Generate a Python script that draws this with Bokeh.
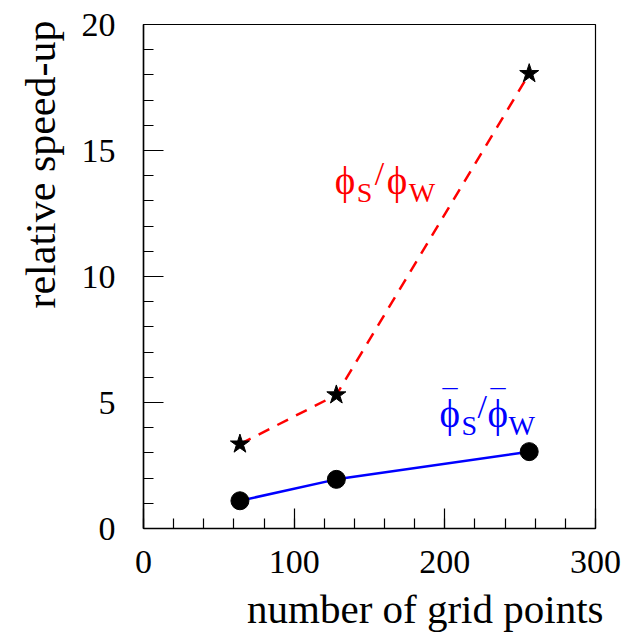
from bokeh.plotting import figure
from bokeh.models import Range1d, SingleIntervalTicker, Label, Title
from bokeh.embed import file_html
from bokeh.resources import INLINE

# data
grid_points = [64, 128, 256]
speedup_single = [3.35, 5.3, 18.05]   # phi_S / phi_W (stars, red dashed)
speedup_avg = [1.1, 1.95, 3.05]       # bar phi_S / bar phi_W (circles, blue)
x_ticks_interval = 100
y_ticks_interval = 5
x_title = "number of grid points"
y_title = "relative speed-up"

FONT = "Liberation Serif"

p = figure(width=634, height=640, output_backend="svg", toolbar_location=None,
           x_range=Range1d(0, 300), y_range=Range1d(0, 20),
           min_border_left=141, min_border_right=39, min_border_top=24, min_border_bottom=110)
p.xgrid.visible = False
p.ygrid.visible = False
p.outline_line_color = "black"
p.outline_line_width = 1.2
p.background_fill_color = "white"
p.border_fill_color = "white"

p.xaxis.ticker = SingleIntervalTicker(interval=x_ticks_interval, num_minor_ticks=5)
p.yaxis.ticker = SingleIntervalTicker(interval=y_ticks_interval, num_minor_ticks=5)
for ax in (p.xaxis[0], p.yaxis[0]):
    ax.major_tick_in = 20
    ax.major_tick_out = 0
    ax.minor_tick_in = 10
    ax.minor_tick_out = 0
    ax.axis_line_color = "black"
    ax.axis_line_width = 1.5
    ax.major_tick_line_color = "black"
    ax.minor_tick_line_color = "black"
    ax.major_tick_line_width = 1.2
    ax.minor_tick_line_width = 1.2
    ax.major_label_text_font = FONT
    ax.major_label_text_font_size = "34px"
    ax.major_label_text_color = "black"

p.xaxis.major_label_standoff = 22
p.yaxis.major_label_standoff = 28

# axis titles (ROOT style: aligned to the far end of each axis)
p.add_layout(Title(text=x_title, align="right", offset=-8, standoff=17,
                   text_font=FONT, text_font_size="41px", text_font_style="normal",
                   text_color="black"), "below")
p.add_layout(Title(text=y_title, align="right", offset=-4, standoff=30,
                   text_font=FONT, text_font_size="42px", text_font_style="normal",
                   text_color="black"), "left")

p.line(grid_points, speedup_single, line_color="red", line_width=2.5, line_dash="12 9")
p.line(grid_points, speedup_avg, line_color="blue", line_width=2.5)
p.scatter(grid_points, speedup_single, marker="star", size=20, fill_color="black", line_color="black")
p.scatter(grid_points, speedup_avg, marker="circle", size=18, fill_color="black", line_color="black")

def rich_label(x, y, pieces, color):
    for text, dx, dy, size in pieces:
        p.add_layout(Label(x=x, y=y, x_offset=dx, y_offset=dy, text=text,
                           text_font=FONT, text_font_size=f"{size}px",
                           text_color=color, text_baseline="alphabetic", text_align="left"))

rich_label(126.9, 13.8, [("ϕ", 0, 0, 39), ("S", 22, -12, 28), ("/", 40, 7, 34),
                         ("ϕ", 52, 0, 39), ("W", 74, -12, 28)], "red")
rich_label(196.5, 4.55, [("¯", 3, 14, 30), ("ϕ", 0, 0, 39), ("S", 22, -12, 28), ("/", 38, 7, 34),
                         ("¯", 51, 14, 30), ("ϕ", 48, 0, 39), ("W", 69, -12, 28)], "blue")

open("out.html", "w").write(file_html(p, INLINE))
